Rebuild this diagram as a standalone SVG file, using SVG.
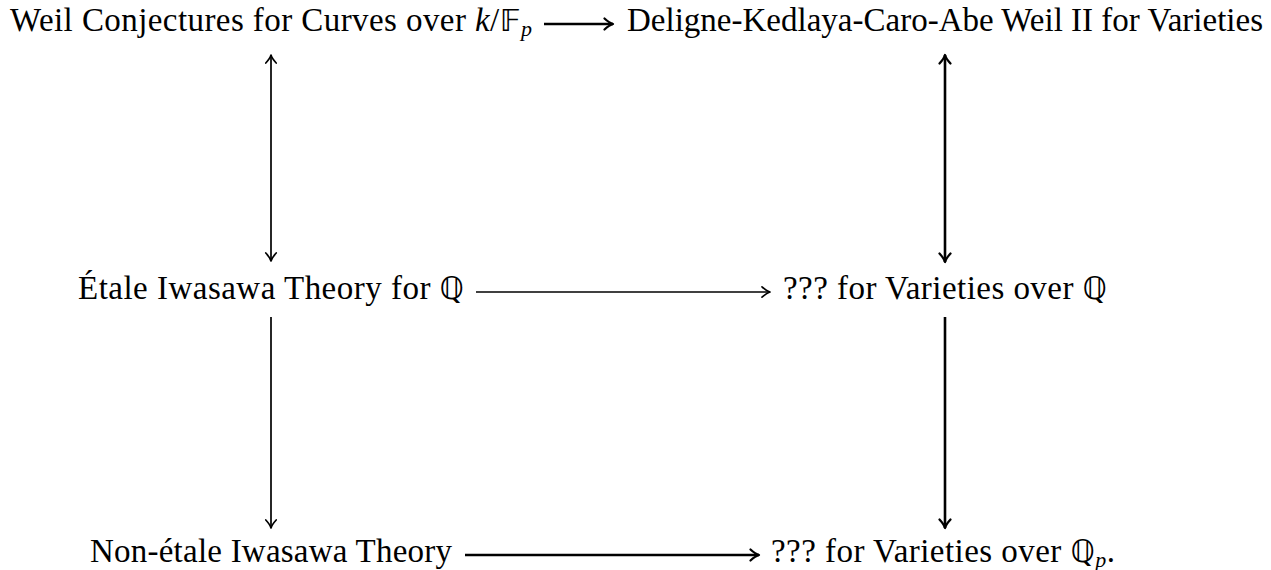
<svg xmlns="http://www.w3.org/2000/svg" width="1271" height="570" viewBox="0 0 1271 570">
  <style>
    .t { font-family: "Liberation Serif", "DejaVu Serif", "DejaVu Sans", serif; font-size: 33px; fill: #000; }
    .m { font-style: italic; }
    .bb { font-family: "DejaVu Sans", "DejaVu Serif", serif; font-size: 31px; }
    .sub { font-size: 22px; font-style: italic; }
    .thin { stroke: #000; stroke-width: 1.7; fill: none; }
    .thick { stroke: #000; stroke-width: 2.6; fill: none; }
  </style>
  <defs>
    <marker id="ah" markerUnits="userSpaceOnUse" viewBox="-10 -7 12 14" refX="0" refY="0" markerWidth="12" markerHeight="14" orient="auto-start-reverse" overflow="visible">
      <path d="M-8,-5.2 C-4.5,-2 -1.8,-0.5 0,0 C-1.8,0.5 -4.5,2 -8,5.2" fill="none" stroke="#000" stroke-width="1.7" stroke-linecap="round" stroke-linejoin="round"/>
    </marker>
    <marker id="ahk" markerUnits="userSpaceOnUse" viewBox="-10 -7 12 14" refX="0" refY="0" markerWidth="12" markerHeight="14" orient="auto-start-reverse" overflow="visible">
      <path d="M-8.5,-5.5 C-4.8,-2.1 -1.9,-0.5 0,0 C-1.9,0.5 -4.8,2.1 -8.5,5.5" fill="none" stroke="#000" stroke-width="2.3" stroke-linecap="round" stroke-linejoin="round"/>
    </marker>
  </defs>

  <g id="n-weil">
    <text class="t" x="10" y="31" textLength="522">Weil Conjectures for Curves over <tspan class="m">k</tspan>/<tspan class="bb">𝔽</tspan><tspan class="sub" dy="5">p</tspan></text>
  </g>
  <g id="n-deligne">
    <text class="t" x="627" y="31" textLength="636">Deligne-Kedlaya-Caro-Abe Weil II for Varieties</text>
  </g>
  <g id="n-etale">
    <text class="t" x="78" y="299" textLength="386">Étale Iwasawa Theory for <tspan class="bb">ℚ</tspan></text>
  </g>
  <g id="n-varq">
    <text class="t" x="783" y="299" textLength="324">??? for Varieties over <tspan class="bb">ℚ</tspan></text>
  </g>
  <g id="n-nonetale">
    <text class="t" x="90" y="562" textLength="362">Non-étale Iwasawa Theory</text>
  </g>
  <g id="n-varqp">
    <text class="t" x="771" y="562" textLength="344">??? for Varieties over <tspan class="bb">ℚ</tspan><tspan class="sub" dy="5">p</tspan><tspan dy="-5">.</tspan></text>
  </g>

  <g id="connectors">
    <line class="thick" x1="544" y1="24" x2="613" y2="24" marker-end="url(#ahk)"/>
    <line class="thin" x1="476" y1="292" x2="770" y2="292" marker-end="url(#ah)"/>
    <line class="thick" x1="465" y1="555" x2="759" y2="555" marker-end="url(#ahk)"/>
    <line class="thin" x1="271" y1="55" x2="271" y2="261" marker-start="url(#ah)" marker-end="url(#ah)"/>
    <line class="thick" x1="945" y1="55" x2="945" y2="262" marker-start="url(#ahk)" marker-end="url(#ahk)"/>
    <line class="thin" x1="271" y1="317" x2="271" y2="528" marker-end="url(#ah)"/>
    <line class="thick" x1="945" y1="317" x2="945" y2="528" marker-end="url(#ahk)"/>
  </g>
</svg>
